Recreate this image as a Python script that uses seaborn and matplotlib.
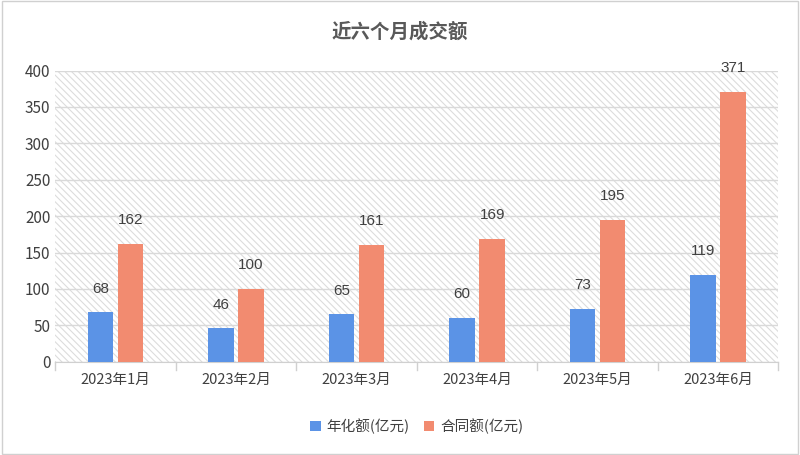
import matplotlib
matplotlib.use("Agg")
import matplotlib.pyplot as plt
import seaborn as sns
import pandas as pd
from matplotlib.patches import Rectangle

plt.rcParams["font.family"] = ["Noto Sans CJK SC"]
plt.rcParams["hatch.color"] = "#d9d9d9"
plt.rcParams["hatch.linewidth"] = 0.8

months = ["2023年1月", "2023年2月", "2023年3月", "2023年4月", "2023年5月", "2023年6月"]
annual = [68, 46, 65, 60, 73, 119]
contract = [162, 100, 161, 169, 195, 371]
series = ["年化额(亿元)", "合同额(亿元)"]
colors = ["#5b93e6", "#f28b70"]

df = pd.DataFrame({"month": months * 2, "value": annual + contract,
                   "series": [series[0]] * 6 + [series[1]] * 6})

fig = plt.figure(figsize=(8, 4.55), dpi=100)
fig.patches.append(Rectangle((0.002, 0.002), 0.996, 0.996, transform=fig.transFigure,
                             fill=False, edgecolor="#d0d0d0", lw=1))
ax = fig.add_axes([0.069, 0.205, 0.904, 0.64])
ax.add_patch(Rectangle((0, 0), 1, 1, transform=ax.transAxes, facecolor="white",
                       hatch="\\\\\\\\\\", edgecolor="#dcdcdc", lw=0, zorder=0))
sns.barplot(data=df, x="month", y="value", hue="series", palette=colors,
            width=0.5, gap=0.15, saturation=1, ax=ax, zorder=3)
for c in ax.containers:
    ax.bar_label(c, padding=12, fontsize=11, color="#404040", fontfamily="Liberation Sans")
ax.set_ylim(0, 400)
ax.set_yticks(range(0, 401, 50))
ax.grid(axis="y", color="#d9d9d9", lw=1, zorder=1)
ax.set_axisbelow(True)
for s in ["top", "right", "left"]:
    ax.spines[s].set_visible(False)
ax.spines["bottom"].set_color("#d0d0d0")
ax.tick_params(axis="y", length=0, labelsize=11, labelcolor="#404040")
ax.tick_params(axis="x", length=0, labelsize=10.5, labelcolor="#404040", pad=8)
for x in [i - 0.5 for i in range(7)]:
    ax.plot([x, x], [0, -0.03], transform=ax.get_xaxis_transform(), color="#d0d0d0",
            lw=1, clip_on=False)
ax.set_xlim(-0.5, 5.5)
ax.set_xlabel("")
ax.set_ylabel("")
ax.legend(loc="upper center", bbox_to_anchor=(0.5, -0.15), ncol=2, frameon=False,
          fontsize=10.5, handlelength=0.7, handleheight=0.7, columnspacing=1.0,
          handletextpad=0.4, labelcolor="#404040")
fig.text(0.5, 0.93, "近六个月成交额", ha="center", va="center", fontsize=14,
         fontweight="bold", color="#595959")
fig.savefig("out.png", dpi=100)
